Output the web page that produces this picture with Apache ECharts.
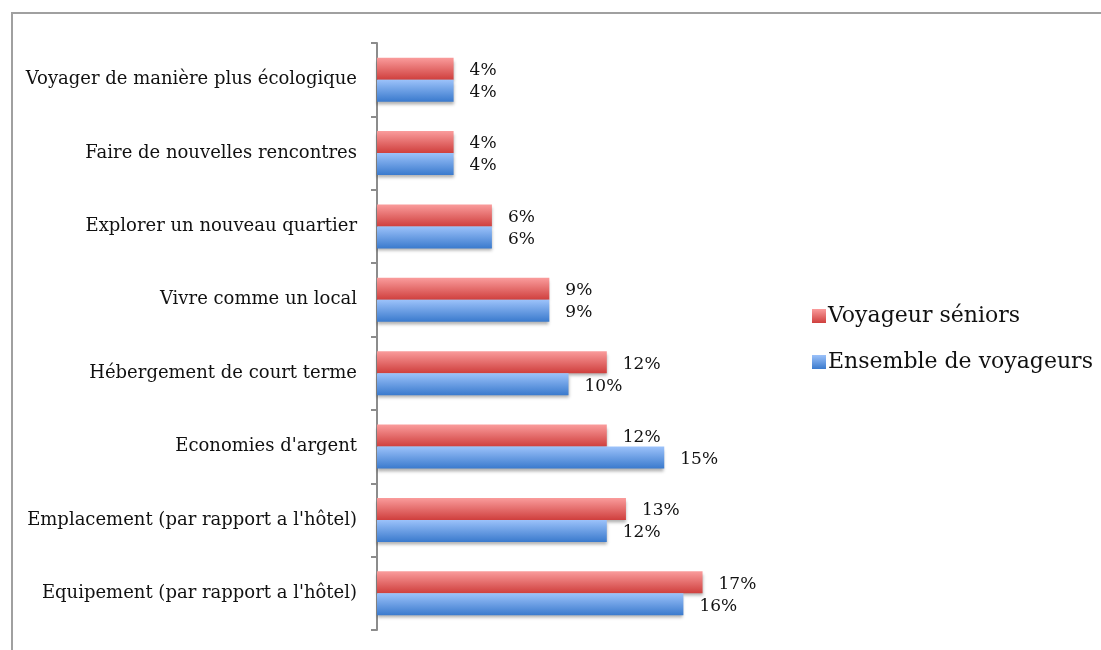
<!DOCTYPE html>
<html>
<head>
<meta charset="utf-8">
<script src="https://cdn.jsdelivr.net/npm/echarts@6/dist/echarts.min.js"></script>
<style>
  html, body { margin: 0; padding: 0; background: #fff; }
  #chart { width: 1101px; height: 650px; }
</style>
</head>
<body>
<div id="chart"></div>
<script>
const categories = [
  'Voyager de manière plus écologique',
  'Faire de nouvelles rencontres',
  'Explorer un nouveau quartier',
  'Vivre comme un local',
  'Hébergement de court terme',
  "Economies d'argent",
  "Emplacement (par rapport a l'hôtel)",
  "Equipement (par rapport a l'hôtel)"
]
const seniors = [4, 4, 6, 9, 12, 12, 13, 17]
const ensemble = [4, 4, 6, 9, 10, 15, 12, 16]

const font = 'DejaVu Serif'

const grad = (top, bottom) => new echarts.graphic.LinearGradient(0, 0, 0, 1, [
  { offset: 0, color: top },
  { offset: 1, color: bottom }
])

const barStyle = (top, bottom) => ({
  color: grad(top, bottom),
  shadowColor: 'rgba(0,0,0,0.3)',
  shadowBlur: 3,
  shadowOffsetY: 3
})

const valueLabel = {
  show: true,
  position: 'right',
  distance: 16,
  offset: [0, 2],
  formatter: '{c}%',
  color: '#111',
  fontFamily: font,
  fontSize: 17
}

const chart = echarts.init(document.getElementById('chart'))
chart.setOption({
  backgroundColor: '#fff',
  animation: false,
  graphic: [{
    type: 'rect',
    shape: { x: 12, y: 13, width: 1200, height: 700 },
    style: { fill: 'none', stroke: '#a0a0a0', lineWidth: 2 }
  }],
  legend: {
    orient: 'vertical',
    left: 807,
    top: 300,
    icon: 'rect',
    itemWidth: 14,
    itemHeight: 14,
    itemGap: 24,
    textStyle: { fontFamily: font, fontSize: 22, color: '#111', padding: [0, 0, 0, -3] },
    data: ['Voyageur séniors', 'Ensemble de voyageurs']
  },
  grid: { left: 377, top: 43, height: 587, right: 341 },
  xAxis: {
    type: 'value', min: 0, max: 20, show: false
  },
  yAxis: {
    type: 'category',
    inverse: true,
    data: categories,
    axisLine: { show: true, lineStyle: { color: '#8c8c8c', width: 2 } },
    axisTick: { show: true, length: 6, lineStyle: { color: '#8c8c8c', width: 2 } },
    axisLabel: { fontFamily: font, fontSize: 18, color: '#111', margin: 20, padding: [4, 0, 0, 0] }
  },
  series: [
    {
      name: 'Voyageur séniors',
      type: 'bar',
      barWidth: 22,
      barGap: '0%',
      data: seniors,
      itemStyle: barStyle('#fa9c9c', '#cf3f3d'),
      label: valueLabel
    },
    {
      name: 'Ensemble de voyageurs',
      type: 'bar',
      barWidth: 22,
      barGap: '0%',
      data: ensemble,
      itemStyle: barStyle('#9cc2fa', '#3a7acd'),
      label: valueLabel
    }
  ]
})
</script>
</body>
</html>
